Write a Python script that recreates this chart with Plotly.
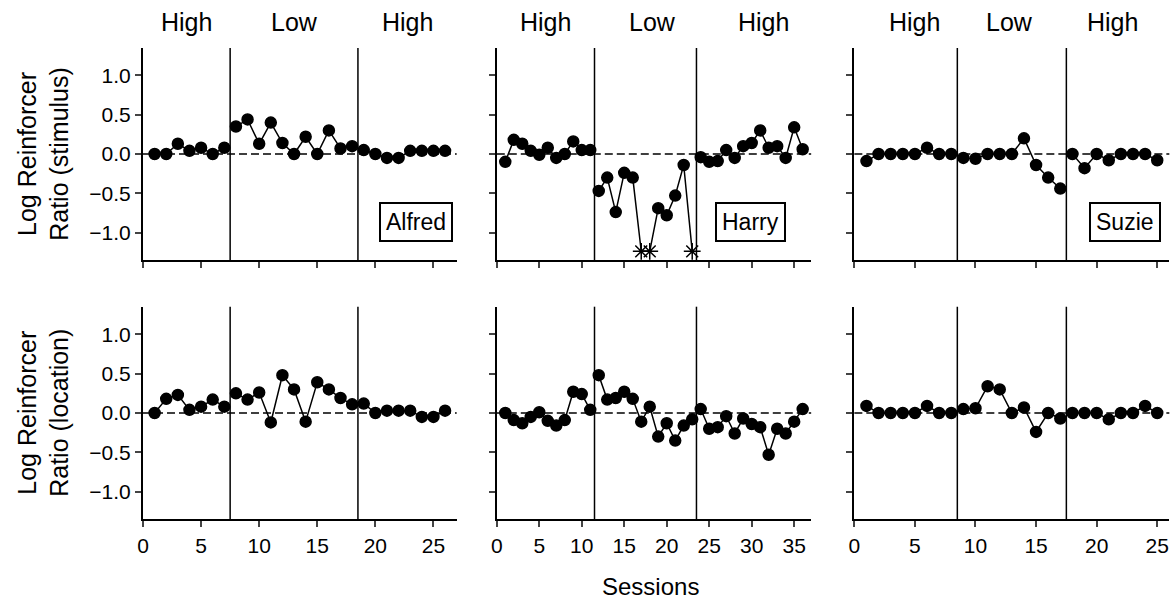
import plotly.graph_objects as go

# ---------------- data ----------------
subjects = ["Alfred", "Harry", "Suzie"]
phase_labels = ["High", "Low", "High"]

alfred_sessions = list(range(1, 27))
alfred_stimulus = [0.0, 0.0, 0.13, 0.04, 0.08, 0.0, 0.08,
                   0.35, 0.44, 0.13, 0.40, 0.14, 0.0, 0.22, 0.0, 0.30, 0.07, 0.10,
                   0.05, 0.0, -0.05, -0.05, 0.04, 0.04, 0.04, 0.04]
alfred_location = [0.0, 0.18, 0.23, 0.04, 0.08, 0.17, 0.08,
                   0.25, 0.17, 0.26, -0.12, 0.48, 0.30, -0.11, 0.39, 0.30, 0.19, 0.11,
                   0.12, 0.0, 0.03, 0.03, 0.03, -0.05, -0.05, 0.03]
alfred_bounds = [7.5, 18.5]

harry_sessions = list(range(1, 37))
# None = off-scale value (plotted as an asterisk at the bottom of the axis)
harry_stimulus = [-0.10, 0.18, 0.13, 0.04, -0.01, 0.08, -0.05, 0.0, 0.16, 0.05, 0.05,
                  -0.47, -0.30, -0.74, -0.24, -0.30, None, None, -0.69, -0.78, -0.53, -0.14, None,
                  -0.04, -0.10, -0.09, 0.05, -0.05, 0.10, 0.14, 0.30, 0.08, 0.10, -0.05, 0.34, 0.06]
harry_location = [0.0, -0.09, -0.13, -0.05, 0.01, -0.10, -0.16, -0.09, 0.27, 0.24, 0.04,
                  0.48, 0.17, 0.19, 0.27, 0.18, -0.11, 0.08, -0.30, -0.13, -0.35, -0.16, -0.08,
                  0.05, -0.20, -0.18, -0.04, -0.26, -0.07, -0.14, -0.18, -0.53, -0.20, -0.26, -0.11, 0.05]
harry_bounds = [11.5, 23.5]

suzie_sessions = list(range(1, 26))
suzie_stimulus = [-0.09, 0.0, 0.0, 0.0, 0.0, 0.08, 0.0, 0.0,
                  -0.05, -0.06, 0.0, 0.0, 0.0, 0.20, -0.14, -0.30, -0.44,
                  0.0, -0.18, 0.0, -0.08, 0.0, 0.0, 0.0, -0.08]
suzie_location = [0.09, 0.0, 0.0, 0.0, 0.0, 0.09, 0.0, 0.0,
                  0.05, 0.06, 0.34, 0.30, 0.0, 0.07, -0.24, 0.0, -0.07,
                  0.0, 0.0, 0.0, -0.08, 0.0, 0.0, 0.09, 0.0]
suzie_bounds = [8.5, 17.5]

off_scale_value = -1.24

x_ranges = [[0, 27], [0, 37], [0, 26]]
x_ticks = [[0, 5, 10, 15, 20, 25], [0, 5, 10, 15, 20, 25, 30, 35], [0, 5, 10, 15, 20, 25]]
header_x = [[3.75, 13.0, 22.75], [5.7, 18.3, 31.4], [5.0, 12.8, 21.3]]
name_box_x = [23.5, 29.9, 22.3]
y_ticks = [-1.0, -0.5, 0.0, 0.5, 1.0]
y_range = [-1.35, 1.35]

sessions = [alfred_sessions, harry_sessions, suzie_sessions]
stimulus = [alfred_stimulus, harry_stimulus, suzie_stimulus]
location = [alfred_location, harry_location, suzie_location]
bounds = [alfred_bounds, harry_bounds, suzie_bounds]

# ---------------- layout geometry ----------------
W, H = 1176, 604
FONT = "Liberation Sans, Arial, sans-serif"
col_px = [(137.7, 453.0), (493.3, 809.3), (852.7, 1169.3)]
row_px = [(48.0, 260.0), (306.7, 519.3)]

fig = go.Figure()
layout = dict(
    width=W, height=H, margin=dict(l=0, r=0, t=0, b=0),
    paper_bgcolor="white", plot_bgcolor="white", showlegend=False,
    font=dict(family=FONT, color="black"),
)
shapes = []
annotations = []


def phase_of(x, b):
    if x < b[0]:
        return 0
    if x < b[1]:
        return 1
    return 2


for r in range(2):
    for c in range(3):
        idx = r * 3 + c + 1
        xa = "xaxis" if idx == 1 else f"xaxis{idx}"
        ya = "yaxis" if idx == 1 else f"yaxis{idx}"
        xr = "x" if idx == 1 else f"x{idx}"
        yr = "y" if idx == 1 else f"y{idx}"
        x0, x1 = col_px[c]
        y0, y1 = row_px[r]
        layout[xa] = dict(
            domain=[x0 / W, x1 / W], anchor=yr, range=x_ranges[c],
            tickmode="array", tickvals=x_ticks[c], ticks="outside", ticklen=6, tickwidth=2,
            showline=True, linewidth=2, linecolor="black", showgrid=False, zeroline=False,
            showticklabels=(r == 1), tickfont=dict(size=21, family=FONT, color="black"),
        )
        layout[ya] = dict(
            domain=[1 - y1 / H, 1 - y0 / H], anchor=xr, range=y_range,
            tickmode="array", tickvals=y_ticks, tickformat=".1f", ticks="outside", ticklen=6,
            tickwidth=2, showline=True, linewidth=2, linecolor="black", showgrid=False,
            zeroline=False, showticklabels=(c == 0),
            tickfont=dict(size=21, family=FONT, color="black"),
        )
        # zero dashed line
        shapes.append(dict(type="line", xref=f"{xr} domain", yref=yr, x0=0, x1=1, y0=0, y1=0,
                           line=dict(color="black", width=1.6, dash="8px,4px"), layer="below"))
        # phase boundaries
        for bx in bounds[c]:
            shapes.append(dict(type="line", xref=xr, yref=f"{yr} domain", x0=bx, x1=bx, y0=0, y1=1,
                               line=dict(color="black", width=1.5), layer="below"))

        vals = stimulus[c] if r == 0 else location[c]
        xs_all = sessions[c]
        for p in range(3):
            px, py, sym, sz = [], [], [], []
            for xv, yv in zip(xs_all, vals):
                if phase_of(xv, bounds[c]) != p:
                    continue
                px.append(xv)
                if yv is None:
                    py.append(off_scale_value)
                    sym.append("asterisk-open")
                    sz.append(14)
                else:
                    py.append(yv)
                    sym.append("circle")
                    sz.append(11)
            fig.add_trace(go.Scatter(
                x=px, y=py, xaxis=xr, yaxis=yr, mode="lines+markers",
                line=dict(color="black", width=1.5),
                marker=dict(color="black", symbol=sym, size=sz, opacity=1,
                            line=dict(color="black", width=1.5)),
                opacity=1,
                hoverinfo="skip",
            ))

        if r == 0:
            for hx, lab in zip(header_x[c], phase_labels):
                annotations.append(dict(xref=xr, yref="paper", x=hx, y=1 - 22 / H, text=lab,
                                        showarrow=False, xanchor="center", yanchor="middle",
                                        font=dict(size=25, family=FONT, color="black")))
            annotations.append(dict(xref=xr, yref=yr, x=name_box_x[c], y=-0.86, text=subjects[c],
                                    showarrow=False, xanchor="center", yanchor="middle",
                                    bordercolor="black", borderwidth=2, borderpad=5,
                                    bgcolor="white",
                                    font=dict(size=23, family=FONT, color="black")))

# axis titles
for r, txt in enumerate(["Log Reinforcer<br>Ratio (stimulus)", "Log Reinforcer<br>Ratio (location)"]):
    y0, y1 = row_px[r]
    annotations.append(dict(xref="paper", yref="paper", x=37 / W, y=1 - (y0 + y1) / 2 / H,
                            text=txt, textangle=-90, showarrow=False, xanchor="center",
                            yanchor="middle", font=dict(size=25, family=FONT, color="black")))
annotations.append(dict(xref="paper", yref="paper", x=647.7 / W, y=1 - 586.7 / H, text="Sessions",
                        showarrow=False, xanchor="center", yanchor="middle",
                        font=dict(size=24, family=FONT, color="black")))

layout["shapes"] = shapes
layout["annotations"] = annotations
fig.update_layout(**layout)
fig.write_html("out.html")
